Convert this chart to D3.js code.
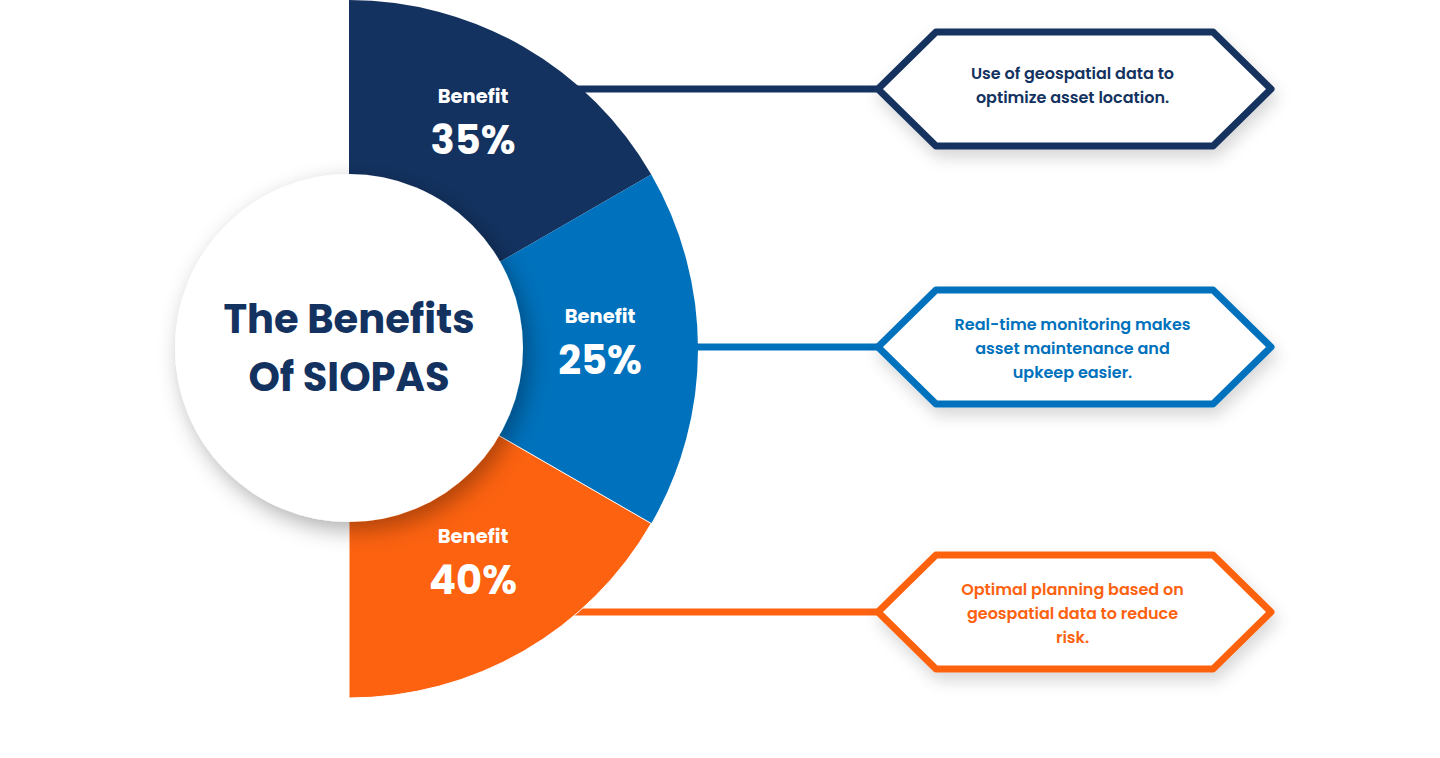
<!DOCTYPE html>
<html>
<head>
<meta charset="utf-8">
<script src="https://cdn.jsdelivr.net/npm/d3@7"></script>
<style>
  body { margin: 0; background: #fff; }
  text { font-family: "Poppins", Inter, "Noto Sans", sans-serif; }
</style>
</head>
<body>
<svg id="chart" width="1440" height="758"></svg>
<script>
// data
var categories = ["Benefit 1", "Benefit 2", "Benefit 3"];
var percents = [35, 25, 40];
var sliceLabel = "Benefit";
var descriptions = [
  ["Use of geospatial data to", "optimize asset location."],
  ["Real-time monitoring makes", "asset maintenance and", "upkeep easier."],
  ["Optimal planning based on", "geospatial data to reduce", "risk."]
];
var titleLines = ["The Benefits", "Of SIOPAS"];

// layout
var svg = d3.select("#chart"),
    cx = 349, cy = 350,
    outerR = 349, holeR = 174,
    labelR = 254,
    boxY = [89, 347, 612],
    hex = { left: 878, slantL: 936, slantR: 1213, right: 1271, half: 57 };

var color = d3.scaleOrdinal()
    .domain(categories)
    .range(["#13325F", "#0071BC", "#FC6210"]);

var defs = svg.append("defs");
defs.append("filter").attr("id", "circleShadow")
    .attr("x", "-30%").attr("y", "-30%").attr("width", "160%").attr("height", "160%")
  .append("feDropShadow")
    .attr("dx", 6).attr("dy", 8).attr("stdDeviation", 11)
    .attr("flood-color", "#000").attr("flood-opacity", 0.32);
defs.append("filter").attr("id", "boxShadow")
    .attr("x", "-20%").attr("y", "-30%").attr("width", "140%").attr("height", "170%")
  .append("feDropShadow")
    .attr("dx", 3).attr("dy", 8).attr("stdDeviation", 8)
    .attr("flood-color", "#000").attr("flood-opacity", 0.16);

// the graphic uses three equal sectors, the percent is just a label
var pie = d3.pie()
    .sort(null)
    .value(function () { return 1; })
    .startAngle(0)
    .endAngle(Math.PI);

var arcs = pie(percents.map(function (p, i) { return { cat: categories[i], pct: p }; }));

var arc = d3.arc().innerRadius(0).outerRadius(outerR);
var labelArc = d3.arc().innerRadius(labelR).outerRadius(labelR);

// connector lines (drawn first, the pie covers their start)
svg.append("g").selectAll("line")
    .data(arcs)
    .enter().append("line")
    .attr("x1", cx)
    .attr("x2", hex.left)
    .attr("y1", function (d, i) { return boxY[i]; })
    .attr("y2", function (d, i) { return boxY[i]; })
    .attr("stroke", function (d) { return color(d.data.cat); })
    .attr("stroke-width", 7);

var g = svg.append("g")
    .attr("transform", "translate(" + cx + "," + (cy - 1) + ")");

g.selectAll(".slice")
    .data(arcs)
    .enter().append("path")
    .attr("class", "slice")
    .attr("d", arc)
    .attr("fill", function (d) { return color(d.data.cat); })
    .attr("stroke", function (d, i) { return i == 2 ? "#fff" : "none"; })
    .attr("stroke-width", 1);

var labels = g.selectAll(".label")
    .data(arcs)
    .enter().append("g")
    .attr("class", "label")
    .attr("transform", function (d) {
        var c = labelArc.centroid(d);
        return "translate(" + (c[0] - 3) + "," + c[1] + ")";
    });

labels.append("text")
    .attr("y", -26)
    .attr("text-anchor", "middle")
    .attr("fill", "#fff")
    .attr("font-size", "19.5px")
    .attr("font-weight", 700)
    .text(sliceLabel);

labels.append("text")
    .attr("y", 25)
    .attr("text-anchor", "middle")
    .attr("fill", "#fff")
    .attr("font-size", "40px")
    .attr("font-weight", 700)
    .text(function (d) { return d.data.pct + "%"; });

// center circle
g.append("circle")
    .attr("cx", 0)
    .attr("cy", -1)
    .attr("r", holeR)
    .attr("fill", "#fff")
    .attr("filter", "url(#circleShadow)");

g.append("g").selectAll("text")
    .data(titleLines)
    .enter().append("text")
    .attr("x", 0)
    .attr("y", function (d, i) { return -16 + i * 58; })
    .attr("text-anchor", "middle")
    .attr("fill", "#13325F")
    .attr("font-size", "40px")
    .attr("font-weight", 700)
    .text(function (d) { return d; });

// hexagon boxes
var hexPath = function (y) {
    return "M" + hex.left + "," + y +
        "L" + hex.slantL + "," + (y - hex.half) +
        "L" + hex.slantR + "," + (y - hex.half) +
        "L" + hex.right + "," + y +
        "L" + hex.slantR + "," + (y + hex.half) +
        "L" + hex.slantL + "," + (y + hex.half) + "Z";
};

var boxes = svg.append("g").selectAll(".box")
    .data(arcs)
    .enter().append("g")
    .attr("class", "box");

boxes.append("path")
    .attr("d", function (d, i) { return hexPath(boxY[i]); })
    .attr("fill", "#fff")
    .attr("stroke", function (d) { return color(d.data.cat); })
    .attr("stroke-width", 7)
    .attr("stroke-linejoin", "round")
    .attr("filter", "url(#boxShadow)");

boxes.each(function (d, i) {
    var lines = descriptions[i];
    var midX = (hex.left + hex.right) / 2 - 2;
    var shift = lines.length == 2 ? 2 : 7;
    d3.select(this).selectAll("text")
        .data(lines)
        .enter().append("text")
        .attr("x", midX)
        .attr("y", function (t, j) { return boxY[i] + (j - (lines.length - 1) / 2) * 24 + shift; })
        .attr("text-anchor", "middle")
        .attr("fill", color(d.data.cat))
        .attr("font-size", "16px")
        .attr("font-weight", 600)
        .text(function (t) { return t; });
});
</script>
</body>
</html>
